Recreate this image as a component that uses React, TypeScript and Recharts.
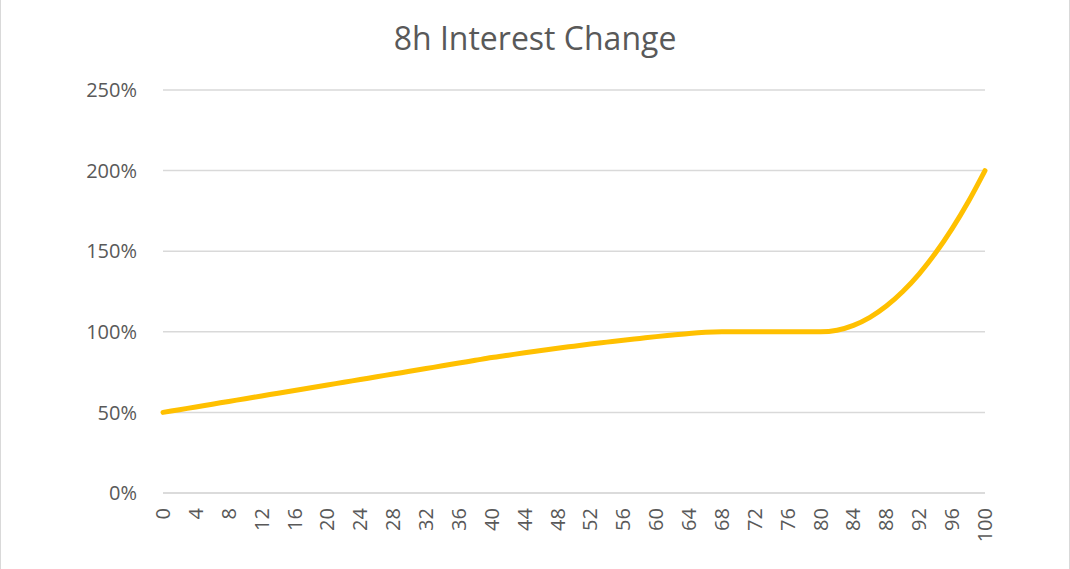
import React from 'react';
import { LineChart, Line, XAxis, YAxis, CartesianGrid } from 'recharts';

// x positions (every 2 units) and the interest change, in %
const steps = [
  0, 2, 4, 6, 8, 10, 12, 14, 16, 18, 20, 22, 24, 26, 28, 30, 32, 34, 36, 38, 40, 42, 44, 46, 48, 50,
  52, 54, 56, 58, 60, 62, 64, 66, 68, 70, 72, 74, 76, 78, 80, 82, 84, 86, 88, 90, 92, 94, 96, 98, 100,
];
const interest = [
  50, 51.7, 53.4, 55.1, 56.8, 58.5, 60.2, 61.9, 63.6, 65.3, 67, 68.7, 70.4, 72.1, 73.8, 75.5, 77.2, 78.9, 80.6, 82.3, 84,
  85.5, 87, 88.4, 89.8, 91.1, 92.4, 93.6, 94.8, 95.9, 97, 98, 99, 99.7, 100, 100, 100, 100, 100, 100, 100,
  101, 104, 109, 116, 125, 136, 149, 164, 181, 200,
];
const xTicks = [0, 4, 8, 12, 16, 20, 24, 28, 32, 36, 40, 44, 48, 52, 56, 60, 64, 68, 72, 76, 80, 84, 88, 92, 96, 100];
const yTicks = [0, 50, 100, 150, 200, 250];

const data = steps.map((s, i) => ({ step: s, value: interest[i] }));

const FONT = '"Open Sans", sans-serif';
const TEXT = '#595959';
const GRID = '#d9d9d9';

const XTick = (props: any) => {
  const { x, y, payload } = props;
  return (
    <text
      x={x}
      y={y}
      transform={`rotate(-90, ${x}, ${y})`}
      textAnchor="end"
      dy="0.35em"
      fill={TEXT}
      fontSize={20}
      fontFamily={FONT}
    >
      {payload.value}
    </text>
  );
};

export default function App() {
  return (
    <div
      style={{
        position: 'absolute',
        left: 0,
        top: 0,
        width: 1070,
        height: 569,
        background: '#fff',
        boxSizing: 'border-box',
        borderLeft: `1px solid ${GRID}`,
        borderRight: `1px solid ${GRID}`,
      }}
    >
      <div
        style={{
          position: 'absolute',
          top: 16,
          width: '100%',
          textAlign: 'center',
          fontFamily: FONT,
          fontSize: 32,
          color: TEXT,
        }}
      >
        8h Interest Change
      </div>
      <LineChart width={1068} height={569} data={data} margin={{ top: 90, right: 84, bottom: 0, left: 0 }}>
        <CartesianGrid vertical={false} stroke={GRID} strokeWidth={1.5} />
        <XAxis
          dataKey="step"
          type="number"
          domain={[0, 100]}
          ticks={xTicks}
          interval={0}
          tick={<XTick />}
          tickLine={false}
          tickSize={0}
          tickMargin={15}
          axisLine={{ stroke: GRID, strokeWidth: 1.5 }}
          height={76}
        />
        <YAxis
          type="number"
          domain={[0, 250]}
          ticks={yTicks}
          width={162}
          tickFormatter={(v: number) => `${v}%`}
          tick={{ fill: TEXT, fontSize: 20, fontFamily: FONT }}
          tickLine={false}
          tickSize={0}
          tickMargin={26}
          axisLine={false}
        />
        <Line
          type="monotone"
          dataKey="value"
          stroke="#FFC000"
          strokeWidth={5}
          strokeLinecap="round"
          dot={false}
          isAnimationActive={false}
        />
      </LineChart>
    </div>
  );
}
